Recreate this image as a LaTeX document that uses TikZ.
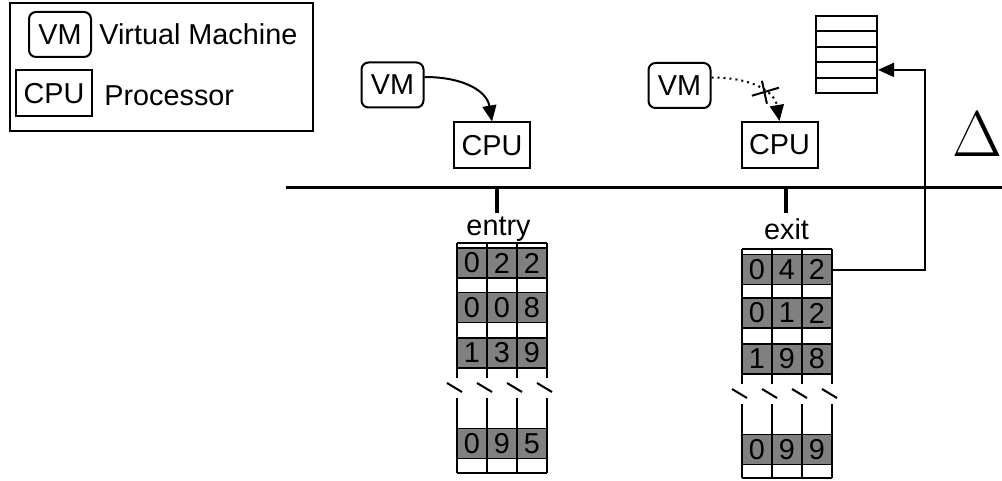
\documentclass[tikz,border=0pt]{standalone}
\usepackage{fontspec}
\setmainfont{Liberation Sans}
\usetikzlibrary{positioning}
\usetikzlibrary{arrows.meta}
\tikzset{box/.style={draw, line width=1pt, minimum width=38pt, minimum height=23pt, inner sep=0pt}}
\tikzset{ar/.style={-{Triangle[length=8pt,width=7pt]}, line width=1pt}}

\begin{document}
\begin{tikzpicture}[x=0.5pt, y=-0.5pt, font=\fontsize{14.4}{17}\selectfont]
\tikzset{
  vm/.style={box, rounded corners=3.5pt, minimum width=31pt, minimum height=22.5pt},
  cell/.style={draw, thick, fill=gray, minimum width=15pt, minimum height=15pt, inner sep=0pt},
  slot/.style={draw, line width=1pt, minimum width=30.5pt, minimum height=7.7pt, inner sep=0pt},
  txt/.style={inner sep=0pt},
  rule/.style={line width=1pt},
}
\useasboundingbox (0,0) rectangle (1002,481);

% legend
\node [draw, line width=1pt, minimum width=151.5pt, minimum height=64pt] (legend) at (161.5,67) {};
\node [vm] (lvm) at (60,34.5) {VM};
\node [txt, right=3.5pt of lvm] (lvmtxt) {Virtual Machine};
\node [box] (lcpu) at (54,93.5) {CPU};
\node [txt, right=5.5pt of lcpu, yshift=-1pt] (lcputxt) {Processor};

% time line
\draw [line width=1.5pt] (286,188) -- (1002,188);
\draw [line width=2pt] (497,188) -- (497,213);
\draw [line width=2pt] (786,188) -- (786,213);
\node [txt, anchor=base] (entry) at (498.5,235) {entry};
\node [txt, anchor=base] (exit) at (786.5,240) {exit};

% vms and cpus
\node [vm] (vm1) at (392.5,85) {VM};
\node [box] (cpu1) at (492,145.5) {CPU};
\node [vm] (vm2) at (679.5,85.5) {VM};
\node [box] (cpu2) at (779.5,145) {CPU};

\draw [ar] ([yshift=4pt]vm1.east) .. controls +(40,0) and +(-5,-30) .. (cpu1.north);
\draw [ar, dotted] ([yshift=4pt]vm2.east) .. controls +(40,0) and +(-5,-30) .. (cpu2.north) coordinate [pos=0.6] (cut);
\draw [rule] (cut) ++(-13,3) -- ++(27,-8);
\draw [rule] (cut) ++(-3,-12) -- ++(5,23);

% entry table
\foreach \r/\dy/\a/\b/\c in {1/20/0/2/2, 2/64.5/0/0/8, 3/110/1/3/9, 4/200.5/0/9/5} {
  \node [cell] (e\r1) at (472,243+\dy) {\a};
  \node [cell] (e\r2) at (502,243+\dy) {\b};
  \node [cell] (e\r3) at (532,243+\dy) {\c};
}
\foreach \x in {457,487,517,547} {
  \draw [rule] (\x,243) -- (\x,378) (\x,398) -- (\x,473);
  \draw [rule] (\x-10,383) -- (\x+5,392);
}
\draw [rule] (457,243) -- (547,243) (457,473) -- (547,473);

% exit table
\foreach \r/\dy/\a/\b/\c in {1/20.5/0/4/2, 2/64/0/1/2, 3/110/1/9/8, 4/200.5/0/9/9} {
  \node [cell] (x\r1) at (757,249+\dy) {\a};
  \node [cell] (x\r2) at (787,249+\dy) {\b};
  \node [cell] (x\r3) at (817,249+\dy) {\c};
}
\foreach \x in {742,772,802,832} {
  \draw [rule] (\x,249) -- (\x,384) (\x,404) -- (\x,478);
  \draw [rule] (\x-10,389) -- (\x+5,398);
}
\draw [rule] (742,249) -- (832,249) (742,478) -- (832,478);

% queue
\foreach \i in {1,...,5} \node [slot] (q\i) at (846.5,8.3+15.4*\i) {};
\coordinate (bend) at (925,0);
\draw [ar] (x13.east) -| (bend |- q4.east) -- (q4.east);

\node [scale=1.3] (delta) at (977,134) {\Huge $\Delta$};
\end{tikzpicture}
\end{document}
